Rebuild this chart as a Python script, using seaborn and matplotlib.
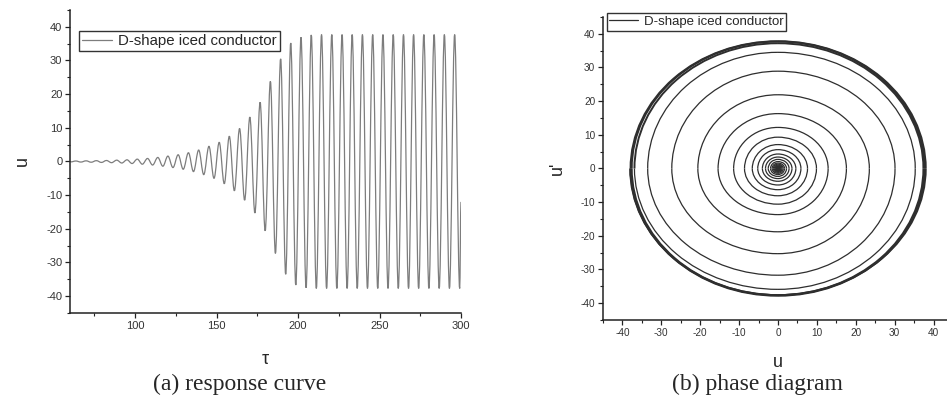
import matplotlib
matplotlib.use("Agg")
import pandas as pd
import matplotlib.pyplot as plt
import seaborn as sns
from matplotlib.patches import Arc, PathPatch
from matplotlib.path import Path
from matplotlib.lines import Line2D
from matplotlib.ticker import MultipleLocator

# (a) response curve: peaks and troughs of u
peak_tau = [63.6, 69.9, 76.2, 82.4, 88.7, 95.0, 101.3, 107.6, 113.9, 120.1,
            126.4, 132.7, 139.0, 145.3, 151.6, 157.8, 164.1, 170.4, 176.7, 183.0,
            189.3, 195.5, 201.8, 208.1, 214.4, 220.7, 227.0, 233.2, 239.5, 245.8,
            252.1, 258.4, 264.7, 270.9, 277.2, 283.5, 289.8, 296.1]
peak_u = [0.15, 0.2, 0.25, 0.3, 0.4, 0.5, 0.7, 0.9, 1.2, 1.6,
          2.0, 2.6, 3.4, 4.5, 5.7, 7.5, 9.8, 13.2, 17.6, 23.8,
          30.5, 35.2, 36.9, 37.6, 37.7, 37.7, 37.7, 37.7, 37.7, 37.7,
          37.7, 37.7, 37.7, 37.7, 37.7, 37.7, 37.7, 37.7]
trough_tau = [66.7, 73.0, 79.3, 85.5, 91.8, 98.1, 104.4, 110.7, 117.0, 123.2,
              129.5, 135.8, 142.1, 148.4, 154.7, 160.9, 167.2, 173.5, 179.8, 186.1,
              192.4, 198.6, 204.9, 211.2, 217.5, 223.8, 230.1, 236.3, 242.6, 248.9,
              255.2, 261.5, 267.8, 274.0, 280.3, 286.6, 292.9, 299.2]
trough_u = [-0.17, -0.22, -0.28, -0.35, -0.45, -0.6, -0.8, -1.05, -1.4, -1.8,
            -2.3, -3.0, -3.9, -5.0, -6.6, -8.7, -11.5, -15.3, -20.6, -27.3,
            -33.5, -36.7, -37.5, -37.7, -37.7, -37.7, -37.7, -37.7, -37.7, -37.7,
            -37.7, -37.7, -37.7, -37.7, -37.7, -37.7, -37.7, -37.7]
start_tau, start_u = 60.5, -0.12
end_tau, end_u = 300.0, -12.0

# (b) phase diagram: axis crossings of each spiral turn (inner -> outer)
left_u = [0.10, 0.12, 0.15, 0.19, 0.24, 0.30, 0.38, 0.48, 0.60, 0.76, 0.95, 1.2,
          1.5, 1.9, 2.5, 3.2, 4.0, 5.2, 6.6, 8.6, 11.4, 15.4, 20.6, 27.3, 33.5,
          36.9, 37.6, 37.9, 38.0]
top_du = [0.11, 0.13, 0.16, 0.20, 0.26, 0.32, 0.41, 0.51, 0.64, 0.81, 1.02, 1.28,
          1.6, 2.05, 2.7, 3.4, 4.3, 5.6, 7.1, 9.3, 12.2, 16.3, 21.9, 28.9, 34.5,
          37.2, 37.7, 37.8]
right_u = [0.11, 0.14, 0.17, 0.22, 0.27, 0.34, 0.43, 0.55, 0.68, 0.86, 1.08, 1.36,
           1.7, 2.2, 2.85, 3.6, 4.6, 5.9, 7.6, 9.9, 12.9, 17.6, 23.5, 30.1, 35.3,
           37.4, 37.7, 38.0]
bottom_du = [0.12, 0.15, 0.18, 0.23, 0.29, 0.36, 0.46, 0.58, 0.72, 0.90, 1.14, 1.43,
             1.8, 2.35, 3.0, 3.8, 4.9, 6.3, 8.1, 10.6, 13.7, 18.8, 25.3, 31.7, 35.9,
             37.6, 37.8, 37.6]

legend_label = "D-shape iced conductor"

# response table, extremes in time order
tau = [start_tau]
u = [start_u]
for pt, pu, tt, tu in zip(peak_tau, peak_u, trough_tau, trough_u):
    tau += [pt, tt]
    u += [pu, tu]
tau.append(end_tau)
u.append(end_u)
df = pd.DataFrame({"tau": tau, "u": u})

sns.set_style("ticks")
plt.rcParams["font.family"] = ["Liberation Sans", "DejaVu Sans"]
plt.rcParams["axes.unicode_minus"] = False

fig = plt.figure(figsize=(9.47, 3.95), dpi=100)
ax1 = fig.add_axes([0.0739, 0.2076, 0.4129, 0.7671])
ax2 = fig.add_axes([0.6367, 0.1899, 0.3696, 0.7671])

# (a) smooth curve through the extremes (flat tangents at each extreme)
verts = [(df.tau[0], df.u[0])]
codes = [Path.MOVETO]
for i in range(1, len(df)):
    t0, u0 = df.tau[i - 1], df.u[i - 1]
    t1, u1 = df.tau[i], df.u[i]
    h = 0.3634 * (t1 - t0)
    verts += [(t0 + h, u0), (t1 - h, u1), (t1, u1)]
    codes += [Path.CURVE4] * 3
line_col = "#7d7d7d"
ax1.add_patch(PathPatch(Path(verts, codes), fill=False, edgecolor=line_col,
                        linewidth=0.9))
ax1.set_xlim(60, 300)
ax1.set_ylim(-45, 45)
ax1.xaxis.set_major_locator(MultipleLocator(50))
ax1.xaxis.set_minor_locator(MultipleLocator(25))
ax1.yaxis.set_major_locator(MultipleLocator(10))
ax1.yaxis.set_minor_locator(MultipleLocator(5))
ax1.set_xlabel("τ", fontsize=13, labelpad=15)
ax1.set_ylabel("u", fontsize=13, labelpad=11)
ax1.legend([Line2D([], [], color=line_col, linewidth=0.9)], [legend_label],
           loc="upper left", bbox_to_anchor=(0.023, 0.931), borderaxespad=0,
           fontsize=10.8, handlelength=2.0, frameon=True, fancybox=False,
           edgecolor="#333333", framealpha=1, borderpad=0.2, handletextpad=0.4)

# (b) each spiral turn as four quarter arcs
col = "#2e2e2e"
for i in range(len(top_du)):
    quads = [(left_u[i], top_du[i], 90, 180),
             (right_u[i], top_du[i], 0, 90),
             (right_u[i], bottom_du[i], 270, 360),
             (left_u[i + 1], bottom_du[i], 180, 270)]
    lw = 1.4 if left_u[i] > 36 else 0.9
    for rx, ry, t1, t2 in quads:
        ax2.add_patch(Arc((0, 0), 2 * rx, 2 * ry, theta1=t1, theta2=t2,
                          color=col, linewidth=lw))
ax2.set_xlim(-45, 45)
ax2.set_ylim(-45, 45)
ax2.xaxis.set_major_locator(MultipleLocator(10))
ax2.xaxis.set_minor_locator(MultipleLocator(5))
ax2.yaxis.set_major_locator(MultipleLocator(10))
ax2.yaxis.set_minor_locator(MultipleLocator(5))
ax2.set_xlabel("u", fontsize=13, labelpad=12)
ax2.set_ylabel("u'", fontsize=13, labelpad=11)
ax2.legend([Line2D([], [], color=col, linewidth=0.9)], [legend_label],
           loc="upper left", bbox_to_anchor=(0.011, 1.013), borderaxespad=0,
           fontsize=9.5, handlelength=2.2, frameon=True, fancybox=False,
           edgecolor="#333333", framealpha=1, borderpad=0.2, handletextpad=0.4)

for ax, fs in ((ax1, 8), (ax2, 7.2)):
    sns.despine(ax=ax)
    for s in ("left", "bottom"):
        ax.spines[s].set_linewidth(1.1)
        ax.spines[s].set_color("#222222")
    ax.tick_params(which="major", direction="out", length=3.5, width=0.9,
                   labelsize=fs, pad=2, color="#222222", labelcolor="#333333")
    ax.tick_params(which="minor", direction="out", length=2, width=0.8,
                   color="#222222")

fig.text(240 / 947, 1 - 384 / 395, "(a) response curve", ha="center", va="center",
         fontsize=17, family="Liberation Serif")
fig.text(757 / 947, 1 - 384 / 395, "(b) phase diagram", ha="center", va="center",
         fontsize=17, family="Liberation Serif")

fig.savefig("out.png", dpi=100)
